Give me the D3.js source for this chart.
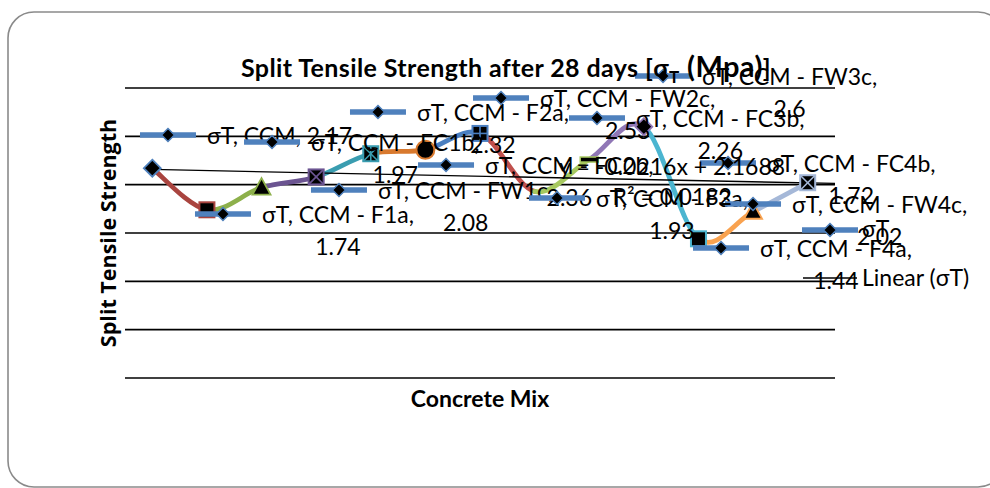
<!DOCTYPE html>
<html>
<head>
<meta charset="utf-8">
<script src="https://cdn.jsdelivr.net/npm/d3@7"></script>
<style>
  html, body { margin: 0; padding: 0; background: #fff; }
  svg { display: block; font-family: Lato, "Noto Sans", sans-serif; }
</style>
</head>
<body>
<svg id="chart" width="990" height="488"></svg>
<script>
/* ---------- data ---------- */
const categories = ["CCM", "CCM - F1a", "CCM - FC1b", "CCM - FW1c", "CCM - F2a", "CCM - FC2b", "CCM - FW2c",
  "CCM - F3a", "CCM - FC3b", "CCM - FW3c", "CCM - F4a", "CCM - FC4b", "CCM - FW4c"];
const sigmaT = [2.17, 1.74, 1.97, 2.08, 2.32, 2.36, 2.53, 1.93, 2.26, 2.6, 1.44, 1.72, 2.02];
const gridTicks = [0, 0.5, 1, 1.5, 2, 2.5, 3];

// one colour and marker per point (Excel "vary colours by point")
const pointColors = ["#4F81BD", "#A9443F", "#8DB04B", "#6B5491", "#3A9DB0", "#D8792E", "#4A7FC0",
  "#C0504D", "#A6C85F", "#9077B6", "#4BB5D0", "#F9A24F", "#A5B8D8"];
const markerShapes = ["diamond", "square", "triangle", "x", "star", "circle", "plus",
  "none", "dash", "diamond", "square", "triangle", "x"];

// where the dragged data labels sit, in category / value units
const labelK = [1.287, 2.294, 3.192, 4.418, 5.132, 6.378, 7.385, 8.410, 9.142, 10.351, 11.413, 11.541, 11.999];
const labelV = [2.514, 1.697, 2.441, 1.945, 2.752, 2.203, 2.897, 1.862, 2.690, 3.124, 1.345, 2.224, 1.800];

const trendText = ["y = -0.0216x + 2.1688", "R² = 0.0182"];
const trendTextAt = [10.52, 2.10];
const legendNames = ["σT", "Linear (σT)"];

/* ---------- setup ---------- */
const svg = d3.select("#chart");
const plot = { left: 125, right: 835, top: 88, bottom: 378 };
const n = sigmaT.length;

const x = d3.scaleLinear().domain([0.5, n + 0.5]).range([plot.left, plot.right]);
const y = d3.scaleLinear().domain([0, 3]).range([plot.bottom, plot.top]);

const keyBlue = "#4F81BD";
const labelSize = 23;

// chart border
svg.append("rect")
  .attr("x", 8).attr("y", 12).attr("width", 996).attr("height", 475).attr("rx", 26)
  .attr("fill", "#fff").attr("stroke", "#8a8a8a").attr("stroke-width", 1.6);

// gridlines
svg.append("g").selectAll("line")
  .data(gridTicks)
  .join("line")
  .attr("x1", plot.left).attr("x2", plot.right)
  .attr("y1", d => y(d)).attr("y2", d => y(d))
  .attr("stroke", "#000").attr("stroke-width", 1.7);

/* ---------- smoothed line, one colour per segment ---------- */
const pts = sigmaT.map((v, i) => [x(i + 1), y(v)]);
const segG = svg.append("g");
for (let i = 0; i < n - 1; i++) {
  const p0 = pts[Math.max(i - 1, 0)], p1 = pts[i], p2 = pts[i + 1], p3 = pts[Math.min(i + 2, n - 1)];
  const p = d3.path();
  p.moveTo(p1[0], p1[1]);
  p.bezierCurveTo(
    p1[0] + (p2[0] - p0[0]) / 6, p1[1] + (p2[1] - p0[1]) / 6,
    p2[0] - (p3[0] - p1[0]) / 6, p2[1] - (p3[1] - p1[1]) / 6,
    p2[0], p2[1]);
  segG.append("path")
    .attr("d", p.toString())
    .attr("fill", "none")
    .attr("stroke", pointColors[i + 1])
    .attr("stroke-width", 4.8)
    .attr("stroke-linecap", "round");
}

// linear trendline (least squares over category index)
const ks = d3.range(1, n + 1);
const mk = d3.mean(ks), mv = d3.mean(sigmaT);
const slope = d3.sum(ks, (k, i) => (k - mk) * (sigmaT[i] - mv)) / d3.sum(ks, k => (k - mk) ** 2);
const intercept = mv - slope * mk;
svg.append("line")
  .attr("x1", x(1)).attr("y1", y(intercept + slope))
  .attr("x2", x(n + 0.5)).attr("y2", y(intercept + slope * (n + 0.5)))
  .attr("stroke", "#000").attr("stroke-width", 1.3);

/* ---------- markers ---------- */
function drawMarker(g, shape, color) {
  const s = 7.5;
  const box = () => g.append("rect").attr("x", -s).attr("y", -s).attr("width", 2 * s).attr("height", 2 * s)
    .attr("fill", "#000").attr("stroke", color).attr("stroke-width", 2);
  const ln = (a, b, c, d) => g.append("line").attr("x1", a).attr("y1", b).attr("x2", c).attr("y2", d)
    .attr("stroke", color).attr("stroke-width", 1.6);
  if (shape === "diamond") {
    g.append("path").attr("d", "M0,-8.5L8.5,0L0,8.5L-8.5,0Z")
      .attr("fill", "#000").attr("stroke", color).attr("stroke-width", 1.8);
  } else if (shape === "square") {
    box();
  } else if (shape === "triangle") {
    g.append("path").attr("d", "M0,-9.5L9,7L-9,7Z")
      .attr("fill", "#000").attr("stroke", color).attr("stroke-width", 1.8);
  } else if (shape === "circle") {
    g.append("circle").attr("r", 9).attr("fill", "#000").attr("stroke", color).attr("stroke-width", 2);
  } else if (shape === "x") {
    box(); ln(-s, -s, s, s); ln(s, -s, -s, s);
  } else if (shape === "star") {
    box(); ln(-s, -s, s, s); ln(s, -s, -s, s); ln(0, -s, 0, s);
  } else if (shape === "plus") {
    box(); ln(-s, 0, s, 0); ln(0, -s, 0, s);
  } else if (shape === "dash") {
    g.append("rect").attr("x", -9).attr("y", -2.5).attr("width", 18).attr("height", 5)
      .attr("fill", "#000").attr("stroke", color).attr("stroke-width", 1.5);
  }
}
const markG = svg.append("g");
pts.forEach((p, i) => {
  drawMarker(markG.append("g").attr("transform", `translate(${p[0]},${p[1]})`), markerShapes[i], pointColors[i]);
});

/* ---------- data labels with legend keys ---------- */
function legendKey(g) {
  g.append("line").attr("x1", -28).attr("x2", 28).attr("y1", 0).attr("y2", 0)
    .attr("stroke", keyBlue).attr("stroke-width", 5.5);
  g.append("path").attr("d", "M0,-6.5L6.5,0L0,6.5L-6.5,0Z")
    .attr("fill", "#000").attr("stroke", keyBlue).attr("stroke-width", 1.5);
}

const labG = svg.append("g");
categories.forEach((cat, i) => {
  const g = labG.append("g").attr("transform", `translate(${x(labelK[i])},${y(labelV[i])})`);
  legendKey(g);
  const oneLine = i === 0;
  const t1 = g.append("text").attr("x", 39).attr("y", 9)
    .attr("font-size", labelSize).attr("fill", "#000")
    .text(oneLine ? `σT, ${cat}, ${sigmaT[i]}` : `σT, ${cat},`);
  if (!oneLine) {
    const w = t1.node().getComputedTextLength();
    g.append("text").attr("x", 39 + w / 2).attr("y", 41)
      .attr("text-anchor", "middle").attr("font-size", labelSize).attr("fill", "#000")
      .text(sigmaT[i]);
  }
});

// trendline equation
const eq = svg.append("text")
  .attr("text-anchor", "middle").attr("font-size", labelSize).attr("fill", "#000");
trendText.forEach((t, j) => {
  eq.append("tspan").attr("x", x(trendTextAt[0])).attr("y", y(trendTextAt[1]) + j * 30).text(t);
});

/* ---------- legend ---------- */
const leg = svg.append("g").attr("transform", "translate(830,230)");
legendKey(leg.append("g"));
leg.append("text").attr("x", 32).attr("y", 7).attr("font-size", labelSize).text(legendNames[0]);
leg.append("line").attr("x1", -27).attr("x2", 27).attr("y1", 48).attr("y2", 48)
  .attr("stroke", "#000").attr("stroke-width", 1.3);
leg.append("text").attr("x", 32).attr("y", 56).attr("font-size", labelSize).text(legendNames[1]);

/* ---------- titles ---------- */
const title = svg.append("text")
  .attr("x", 506).attr("y", 77).attr("text-anchor", "middle")
  .attr("font-weight", "bold").attr("font-size", 25).attr("letter-spacing", 0.4).attr("fill", "#000");
title.append("tspan").text("Split Tensile Strength after 28 days [σ");
title.append("tspan").attr("font-size", 17).attr("dy", 6).text("T");
title.append("tspan").attr("font-size", 29).attr("dy", -6).text(" (Mpa)");
title.append("tspan").text("]");

svg.append("text")
  .attr("transform", `translate(116,${(plot.top + plot.bottom) / 2}) rotate(-90)`)
  .attr("text-anchor", "middle").attr("font-weight", "bold").attr("font-size", 21.5)
  .attr("font-family", "'Open Sans', sans-serif")
  .text("Split Tensile Strength");

svg.append("text")
  .attr("x", (plot.left + plot.right) / 2).attr("y", 407)
  .attr("text-anchor", "middle").attr("font-weight", "bold").attr("font-size", 23)
  .text("Concrete Mix");
</script>
</body>
</html>
